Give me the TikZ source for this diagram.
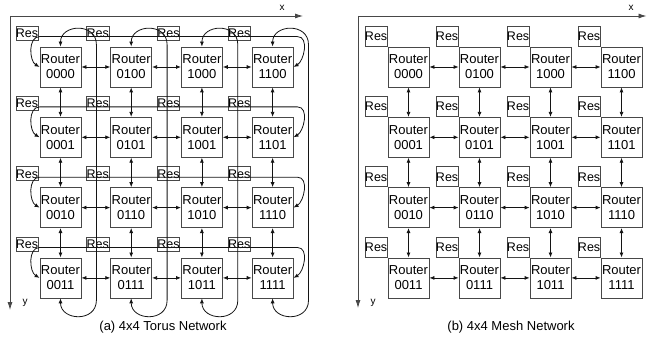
\documentclass[tikz,border=0pt]{standalone}
\usepackage{fontspec}
\setmainfont{Liberation Sans}
\usetikzlibrary{arrows.meta,calc}
\definecolor{framegrey}{RGB}{72,72,72}
\definecolor{linkblack}{RGB}{20,20,20}
\tikzset{
  router/.style={draw=framegrey,line width=0.8pt,minimum width=41pt,
    minimum height=40pt,inner sep=0pt,align=center,
    font=\fontsize{13}{15}\selectfont},
  resbox/.style={draw=framegrey,line width=0.8pt,minimum width=22pt,
    minimum height=14pt,inner sep=0pt,font=\fontsize{12.5}{14}\selectfont},
  meshres/.style={resbox,minimum width=21pt,minimum height=20pt},
  link/.style={{Latex[length=5pt,width=4pt]}-{Latex[length=5pt,width=4pt]},
    line width=0.8pt,draw=linkblack},
  axis/.style={-{Latex[length=8pt,width=5pt]},line width=0.8pt,draw=framegrey},
  axislabel/.style={font=\fontsize{10}{12}\selectfont},
  caption/.style={font=\fontsize{13}{15}\selectfont}
}

\begin{document}
\begin{tikzpicture}[x=1pt,y=1pt]
  \useasboundingbox (0,0) rectangle (647,-339);
  \foreach \c/\cb in {0/00,1/01,2/10,3/11}
    \foreach \r/\rb in {0/00,1/01,2/10,3/11} {
      \node[router] (t\c\r) at (60.5+70.7*\c,-67-70.3*\r) {Router\\\cb\rb};
      \node[resbox,anchor=south east] (tres\c\r)
        at ($(t\c\r.north west)+(-1,6)$) {Res};
      \node[router] (m\c\r) at (408.5+71*\c,-67-70.3*\r) {Router\\\cb\rb};
      \node[meshres,anchor=south east] (mres\c\r) at (m\c\r.north west) {Res};
    }
  \foreach \c in {0,1,2} {
    \pgfmathtruncatemacro\nx{\c+1}
    \foreach \r in {0,...,3} {
      \draw[link] (t\c\r.east) -- (t\nx\r.west);
      \draw[link] (t\r\c.south) -- (t\r\nx.north);
      \draw[link] (m\c\r.east) -- (m\nx\r.west);
      \draw[link] (m\r\c.south) -- (m\r\nx.north);
    }
  }
  \foreach \r in {0,...,3}
    \draw[link] (t0\r.west) to[out=150,in=180] ($(t0\r.north west)+(0,10)$)
      -- ($(t3\r.north east)+(4,10)$) to[out=0,in=30] (t3\r.east);
  \foreach \c in {0,...,3}
    \draw[link] (t\c0.north) to[out=90,in=90,looseness=1.6]
      ($(t\c0.north east)+(15,2)$) -- ($(t\c3.south east)+(15,-2)$)
      to[out=-90,in=-90,looseness=1.6] (t\c3.south);
  \coordinate (torig) at (10,-16);
  \coordinate (tend) at (303,-16);
  \coordinate (tdown) at (10,-310);
  \draw[axis] (torig) -- (tend);
  \draw[axis] (torig) -- (tdown);
  \node[axislabel] (txlab) at (282,-8) {x};
  \node[axislabel] (tylab) at (25,-303) {y};
  \coordinate (morig) at (358,-16);
  \coordinate (mend) at (646.5,-16);
  \coordinate (mdown) at (358,-308);
  \draw[axis] (morig) -- (mend);
  \draw[axis] (morig) -- (mdown);
  \node[axislabel] (mxlab) at (631,-8) {x};
  \node[axislabel] (mylab) at (373,-303) {y};
  \node[caption] (tcap) at (163,-327) {(a) 4x4 Torus Network};
  \node[caption] (mcap) at (511,-327) {(b) 4x4 Mesh Network};
\end{tikzpicture}
\end{document}
